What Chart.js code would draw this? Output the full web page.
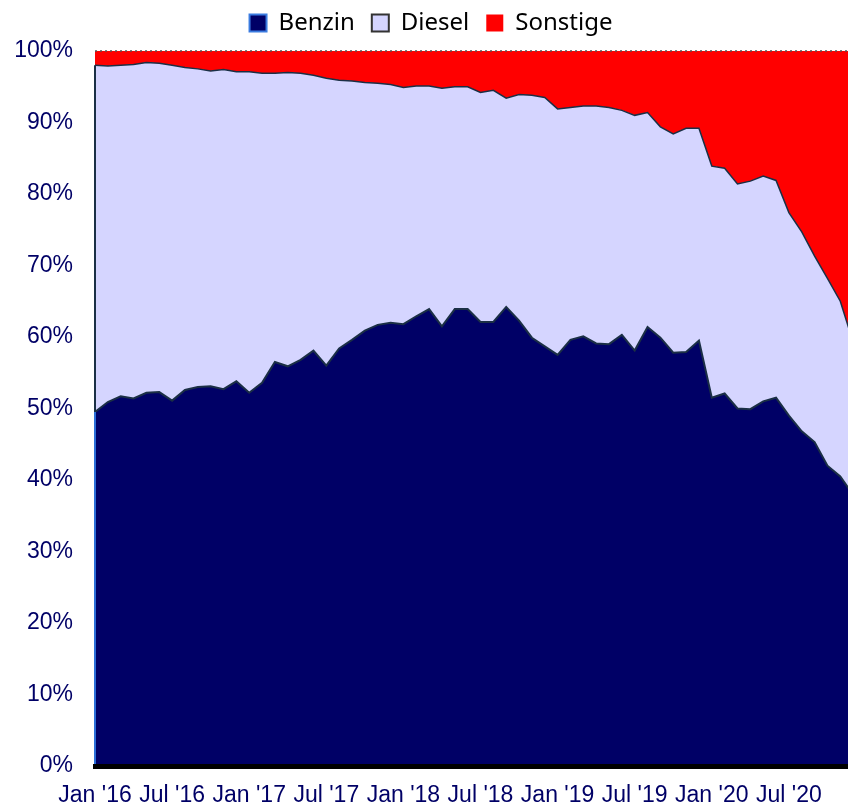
<!DOCTYPE html>
<html>
<head>
<meta charset="utf-8">
<script src="https://cdn.jsdelivr.net/npm/chart.js@4/dist/chart.umd.min.js"></script>
<style>
  html, body { margin: 0; padding: 0; background: #ffffff; }
  #wrap { width: 848px; height: 806px; position: relative; }
</style>
</head>
<body>
<div id="wrap"><canvas id="c" width="848" height="806"></canvas></div>
<script>
// Monthly share of new registrations (%), Jan 2016 .. Dec 2020
const months = [
  "Jan '16","Feb '16","Mar '16","Apr '16","May '16","Jun '16","Jul '16","Aug '16","Sep '16","Oct '16","Nov '16","Dec '16",
  "Jan '17","Feb '17","Mar '17","Apr '17","May '17","Jun '17","Jul '17","Aug '17","Sep '17","Oct '17","Nov '17","Dec '17",
  "Jan '18","Feb '18","Mar '18","Apr '18","May '18","Jun '18","Jul '18","Aug '18","Sep '18","Oct '18","Nov '18","Dec '18",
  "Jan '19","Feb '19","Mar '19","Apr '19","May '19","Jun '19","Jul '19","Aug '19","Sep '19","Oct '19","Nov '19","Dec '19",
  "Jan '20","Feb '20","Mar '20","Apr '20","May '20","Jun '20","Jul '20","Aug '20","Sep '20","Oct '20","Nov '20","Dec '20"
];
const tickLabels = ["Jan '16","Jul '16","Jan '17","Jul '17","Jan '18","Jul '18","Jan '19","Jul '19","Jan '20","Jul '20"];
const yTicks = [0,10,20,30,40,50,60,70,80,90,100];

const benzin = [
  49.5,50.9,51.7,51.4,52.2,52.3,51.1,52.6,53.0,53.1,52.7,53.8,
  52.2,53.6,56.5,55.9,56.8,58.1,56.0,58.4,59.6,60.9,61.7,62.0,
  61.8,62.9,63.9,61.5,63.9,63.9,62.1,62.1,64.2,62.3,59.9,58.7,
  57.5,59.6,60.1,59.1,59.0,60.3,58.1,61.4,59.9,57.8,57.9,59.5,
  51.5,52.1,50.0,49.9,51.0,51.5,49.0,46.8,45.3,42.0,40.5,37.9
];
const diesel = [
  48.5,47.0,46.3,46.7,46.2,46.0,46.9,45.1,44.5,44.1,44.7,43.3,
  44.9,43.3,40.4,41.1,40.1,38.5,40.2,37.5,36.2,34.7,33.8,33.3,
  33.1,32.2,31.2,33.3,31.1,31.1,32.1,32.4,29.2,31.6,33.9,34.8,
  34.4,32.5,32.2,33.2,33.1,31.4,32.9,30.0,29.5,30.6,31.3,29.7,
  32.4,31.5,31.4,31.9,31.5,30.4,28.4,27.9,26.0,26.2,24.5,21.4
];
const sonstige = [
  2.0,2.1,2.0,1.9,1.6,1.7,2.0,2.3,2.5,2.8,2.6,2.9,
  2.9,3.1,3.1,3.0,3.1,3.4,3.8,4.1,4.2,4.4,4.5,4.7,
  5.1,4.9,4.9,5.2,5.0,5.0,5.8,5.5,6.6,6.1,6.2,6.5,
  8.1,7.9,7.7,7.7,7.9,8.3,9.0,8.6,10.6,11.6,10.8,10.8,
  16.1,16.4,18.6,18.2,17.5,18.1,22.6,25.3,28.7,31.8,35.0,40.7
];

const NAVY = '#000066';
const LAV = '#D5D5FF';
const RED = '#FF0000';
const EDGE = '#1b2f45';

const toPts = arr => arr.map((v, i) => ({ x: i, y: v }));

const legendShift = {
  id: 'legendShift',
  afterLayout(chart) {
    const lg = chart.legend;
    if (!lg) return;
    lg.top -= 6; lg.bottom -= 6;
    lg.left += 7; lg.right += 7;
  }
};

const edgePlugin = {
  id: 'edges',
  afterDatasetsDraw(chart) {
    const { ctx, chartArea, scales } = chart;
    const xs = scales.x, ys = scales.y;
    ctx.save();
    ctx.strokeStyle = '#555555';
    ctx.lineWidth = 1.5;
    ctx.setLineDash([2, 3]);
    const yTop = ys.getPixelForValue(100);
    ctx.beginPath();
    ctx.moveTo(chartArea.left, yTop);
    ctx.lineTo(chartArea.right, yTop);
    ctx.stroke();
    ctx.setLineDash([]);
    const x0 = xs.getPixelForValue(0);
    ctx.lineWidth = 2;
    ctx.strokeStyle = '#2b6fd8';
    ctx.beginPath();
    ctx.moveTo(x0, ys.getPixelForValue(0));
    ctx.lineTo(x0, ys.getPixelForValue(benzin[0]));
    ctx.stroke();
    ctx.strokeStyle = EDGE;
    ctx.beginPath();
    ctx.moveTo(x0, ys.getPixelForValue(benzin[0]));
    ctx.lineTo(x0, ys.getPixelForValue(benzin[0] + diesel[0]));
    ctx.stroke();
    ctx.restore();
  }
};

new Chart(document.getElementById('c'), {
  type: 'line',
  data: {
    datasets: [
      { label: 'Benzin', data: toPts(benzin), backgroundColor: NAVY, borderColor: EDGE, borderWidth: 2, fill: 'origin', pointRadius: 0, tension: 0 },
      { label: 'Diesel', data: toPts(diesel), backgroundColor: LAV, borderColor: EDGE, borderWidth: 1.5, fill: '-1', pointRadius: 0, tension: 0 },
      { label: 'Sonstige', data: toPts(sonstige), backgroundColor: RED, borderColor: 'rgba(0,0,0,0)', borderWidth: 0, fill: '-1', pointRadius: 0, tension: 0 }
    ]
  },
  options: {
    responsive: false,
    animation: false,
    devicePixelRatio: 1,
    layout: { padding: { top: 0, left: 0, right: 0, bottom: 0 } },
    plugins: {
      tooltip: { enabled: false },
      legend: {
        position: 'top',
        align: 'center',
        labels: {
          font: { family: "'Noto Sans', 'Open Sans', sans-serif", size: 24 },
          color: '#1e2c48',
          boxWidth: 17,
          boxHeight: 17,
          padding: 17,
          generateLabels() {
            return [
              { text: 'Benzin', fillStyle: NAVY, strokeStyle: '#3a7be0', lineWidth: 2, hidden: false, datasetIndex: 0 },
              { text: 'Diesel', fillStyle: LAV, strokeStyle: '#333333', lineWidth: 2, hidden: false, datasetIndex: 1 },
              { text: 'Sonstige', fillStyle: RED, strokeStyle: RED, lineWidth: 0, hidden: false, datasetIndex: 2 }
            ];
          }
        }
      }
    },
    scales: {
      x: {
        type: 'linear',
        min: 0,
        max: 58.6,
        afterFit(scale) { scale.height = 40; },
        grid: { display: false, drawTicks: false },
        border: { display: true, color: '#000000', width: 5, z: 1 },
        afterBuildTicks(scale) {
          scale.ticks = tickLabels.map((t, i) => ({ value: i * 6 }));
        },
        ticks: {
          autoSkip: false,
          maxRotation: 0,
          padding: 16,
          color: NAVY,
          font: { family: "'Liberation Sans', Arial, sans-serif", size: 23 },
          callback: (v) => {
            const k = Math.round(v / 6);
            return (Math.abs(v - k * 6) < 1e-6) ? tickLabels[k] : '';
          }
        }
      },
      y: {
        stacked: true,
        min: 0,
        max: 100,
        afterFit(scale) { scale.width = 95; scale.paddingTop = 51; },
        afterBuildTicks(scale) {
          scale.ticks = yTicks.map(v => ({ value: v }));
        },
        grid: { display: false, drawTicks: false },
        border: { display: false },
        ticks: {
          padding: 22,
          color: NAVY,
          font: { family: "'Liberation Sans', Arial, sans-serif", size: 23 },
          callback: (v) => v + '%'
        }
      }
    }
  },
  plugins: [legendShift, edgePlugin]
});
</script>
</body>
</html>
